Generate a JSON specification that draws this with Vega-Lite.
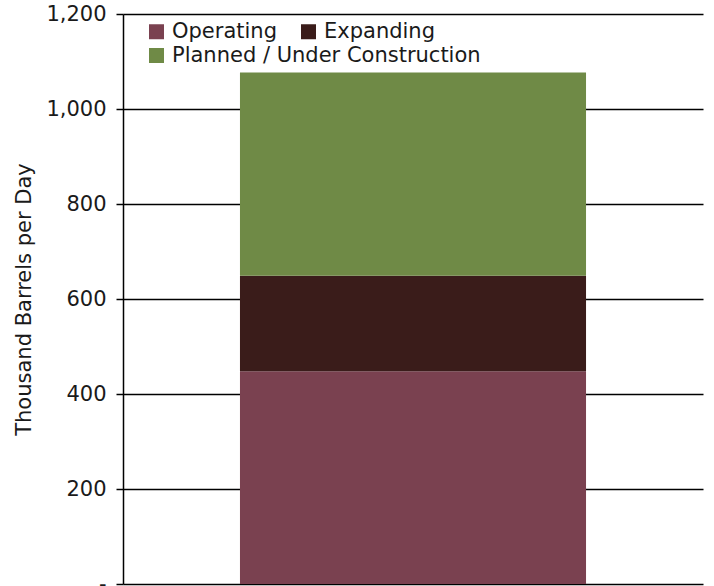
{
  "$schema": "https://vega.github.io/schema/vega-lite/v6.json",
  "width": 580,
  "height": 570,
  "autosize": "none",
  "padding": {"left": 123, "top": 14, "right": 11, "bottom": 2},
  "background": "white",
  "data": {
    "values": [
      {"category": "Total", "status": "Operating", "value": 448},
      {"category": "Total", "status": "Expanding", "value": 201},
      {"category": "Total", "status": "Planned / Under Construction", "value": 428}
    ]
  },
  "transform": [
    {"calculate": "indexof(['Operating', 'Expanding', 'Planned / Under Construction'], datum.status)", "as": "stackOrder"},
    {"stack": "value", "groupby": ["category"], "sort": [{"field": "stackOrder", "order": "ascending"}], "as": ["v0", "v1"]}
  ],
  "config": {
    "view": {"stroke": null},
    "font": "DejaVu Sans",
    "legend": {
      "title": null,
      "orient": "none",
      "direction": "horizontal",
      "columnPadding": 21,
      "padding": 0,
      "symbolType": "square",
      "symbolSize": 225,
      "symbolStrokeWidth": 0,
      "labelFont": "DejaVu Sans",
      "labelFontSize": 21,
      "labelLimit": 500,
      "labelColor": "#1a1a1a",
      "labelOffset": 5
    }
  },
  "encoding": {
    "x": {
      "field": "category",
      "type": "nominal",
      "axis": null,
      "scale": {"paddingInner": 0, "paddingOuter": 0.338}
    },
    "y": {
      "field": "v1",
      "type": "quantitative",
      "scale": {"domain": [0, 1200], "nice": false},
      "axis": {
        "values": [0, 200, 400, 600, 800, 1000, 1200],
        "labelExpr": "datum.value === 0 ? '-' : format(datum.value, ',')",
        "labelFont": "DejaVu Sans",
        "labelFontSize": 21,
        "labelColor": "#1a1a1a",
        "labelPadding": 10,
        "tickColor": "black",
        "tickSize": 7,
        "tickWidth": 1.5,
        "domainColor": "black",
        "domainWidth": 1.5,
        "grid": true,
        "gridColor": "black",
        "gridWidth": 1.5,
        "title": "Thousand Barrels per Day",
        "titleFont": "DejaVu Sans",
        "titleFontSize": 21,
        "titleFontWeight": "normal",
        "titleColor": "#1a1a1a",
        "titlePadding": 11
      }
    },
    "y2": {"field": "v0"}
  },
  "layer": [
    {
      "transform": [{"filter": "datum.status !== 'Planned / Under Construction'"}],
      "mark": {"type": "bar"},
      "encoding": {
        "color": {
          "field": "status",
          "type": "nominal",
          "scale": {"domain": ["Operating", "Expanding"], "range": ["#7a4150", "#3a1c1a"]},
          "legend": {"legendX": 23, "legendY": 7}
        }
      }
    },
    {
      "transform": [{"filter": "datum.status === 'Planned / Under Construction'"}],
      "mark": {"type": "bar"},
      "encoding": {
        "color": {
          "field": "status",
          "type": "nominal",
          "scale": {"domain": ["Planned / Under Construction"], "range": ["#6f8a46"]},
          "legend": {"legendX": 23, "legendY": 31}
        }
      }
    }
  ],
  "resolve": {"scale": {"color": "independent"}}
}
